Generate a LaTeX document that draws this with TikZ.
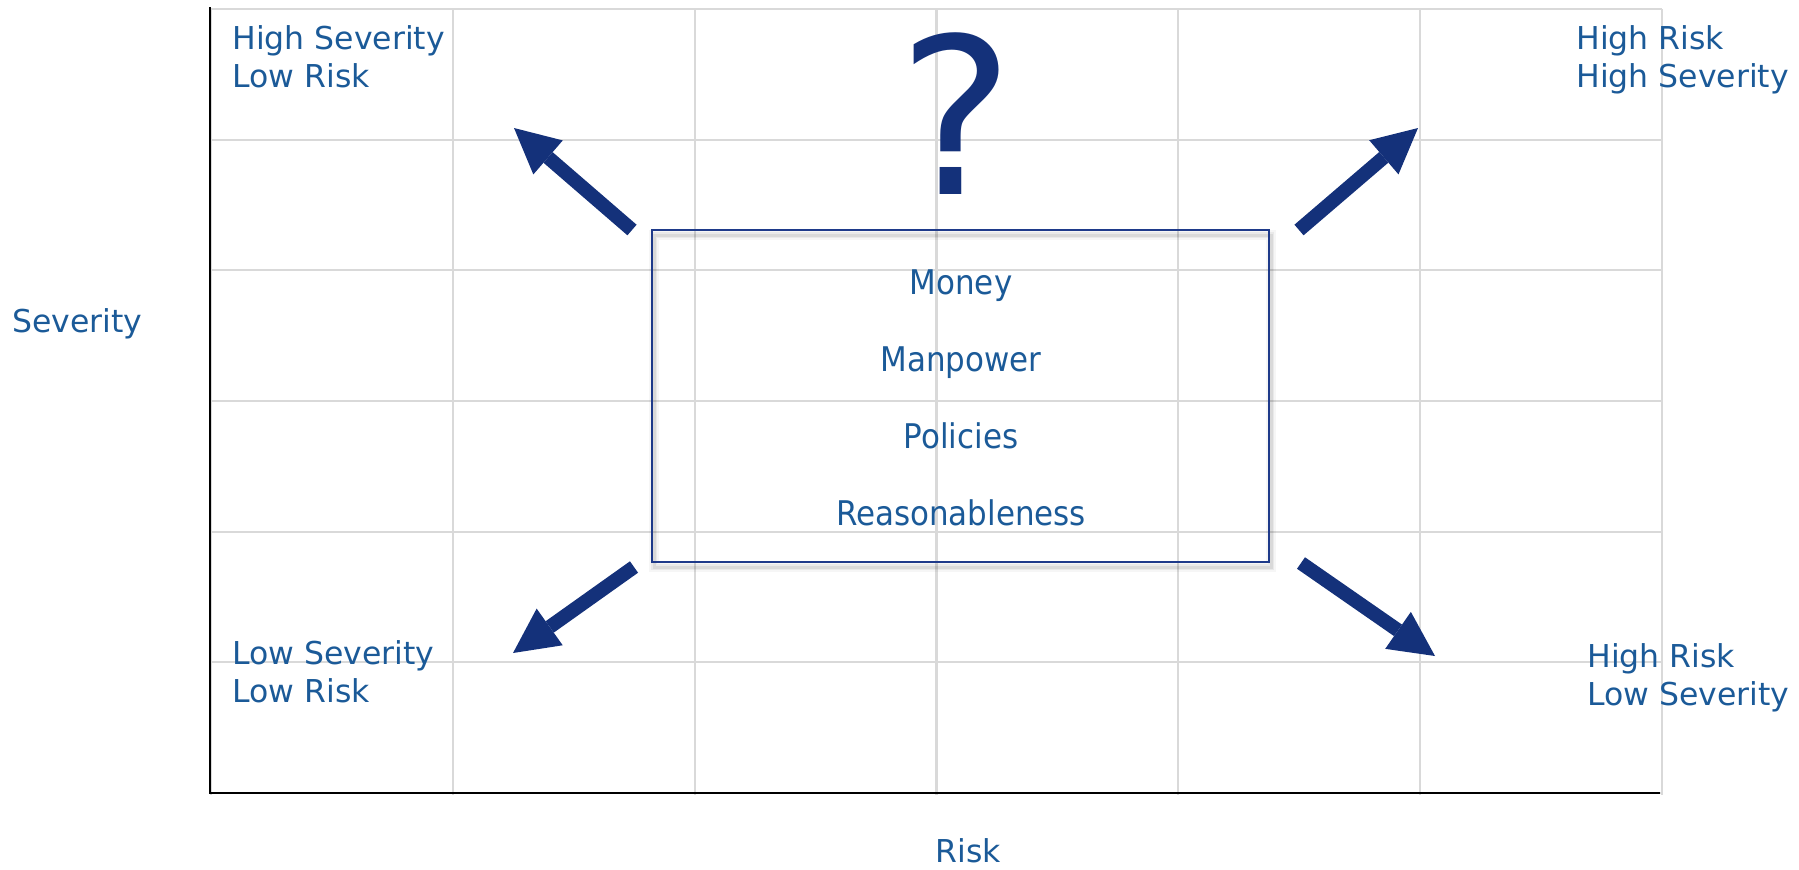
\documentclass[tikz,border=0pt]{standalone}
\usepackage{fontspec}
\setmainfont{DejaVu Sans}
\newfontfamily\boxfont[FakeStretch=0.91]{DejaVu Sans}
\usetikzlibrary{arrows.meta}

\definecolor{labelblue}{HTML}{1B5A98}
\definecolor{navy}{HTML}{14317A}
\definecolor{frameblue}{HTML}{1E3A8A}
\definecolor{gridgray}{HTML}{D9D9D9}

\begin{document}
\begin{tikzpicture}[x=0.5pt,y=-0.5pt,
  label/.style={anchor=base west, inner sep=0pt, text=labelblue,
    font=\fontsize{15.75pt}{19pt}\selectfont},
  item/.style={anchor=base, inner sep=0pt, text=labelblue,
    font=\boxfont\fontsize{17pt}{20pt}\selectfont},
  bigarrow/.style={draw=navy, line width=7pt,
    -{Triangle[length=22.5pt,width=22.5pt,line width=0pt]}},
  gridline/.style={draw=gridgray, line width=1.1pt},
  axisline/.style={draw=black, line width=1.2pt},
]
\useasboundingbox (0,0) rectangle (1799,869);

% light background grid, 6 x 6 cells
\foreach \i in {0,...,6}
  \draw[gridline] ({211+241.8*\i},9) -- ({211+241.8*\i},795);
\foreach \j in {0,...,6}
  \draw[gridline] (211,{9+130.67*\j}) -- (1662,{9+130.67*\j});

% axes
\coordinate (ytop) at (210,7);
\coordinate (origin) at (210,793);
\coordinate (xend) at (1660,793);
\draw[axisline] (ytop) -- (origin) -- (xend);

% soft shadow of the central frame
\foreach \w/\o in {5/0.035,3/0.05,1.5/0.07}
  \draw[line width=\w pt, black, opacity=\o] (654,235) rectangle (1271,567);

% central frame with the factors
\node (factors) [draw=frameblue, line width=1.3pt, inner sep=0pt,
  minimum width=308.5pt, minimum height=166pt] at (960.5,396) {};
\node (money)  [item] at (961,294) {Money};
\node (manpow) [item] at (961,371) {Manpower};
\node (policy) [item] at (961,448) {Policies};
\node (reason) [item] at (961,525) {Reasonableness};

% question mark above the frame
\node (query) [anchor=base, inner sep=0pt, text=navy,
  font=\fontsize{109pt}{120pt}\selectfont] at (956,194) {?};

% arrows towards the four corners
\coordinate (ulTail) at (632,230);  \coordinate (ulTip) at (514,128);
\coordinate (urTail) at (1299,230); \coordinate (urTip) at (1418,128);
\coordinate (llTail) at (634,567);  \coordinate (llTip) at (513,653);
\coordinate (lrTail) at (1301,563); \coordinate (lrTip) at (1435,656);
\draw[bigarrow] (ulTail) -- (ulTip);
\draw[bigarrow] (urTail) -- (urTip);
\draw[bigarrow] (llTail) -- (llTip);
\draw[bigarrow] (lrTail) -- (lrTip);

% corner labels
\node (tlA) [label] at (232,49) {High Severity};
\node (tlB) [label] at (232,87) {Low Risk};
\node (trA) [label] at (1576,49) {High Risk};
\node (trB) [label] at (1576,87) {High Severity};
\node (blA) [label] at (232,664) {Low Severity};
\node (blB) [label] at (232,702) {Low Risk};
\node (brA) [label] at (1587,667) {High Risk};
\node (brB) [label] at (1587,705) {Low Severity};

% axis titles
\node (ytitle) [label] at (12,332) {Severity};
\node (xtitle) [label, anchor=base] at (968,862) {Risk};
\end{tikzpicture}
\end{document}
